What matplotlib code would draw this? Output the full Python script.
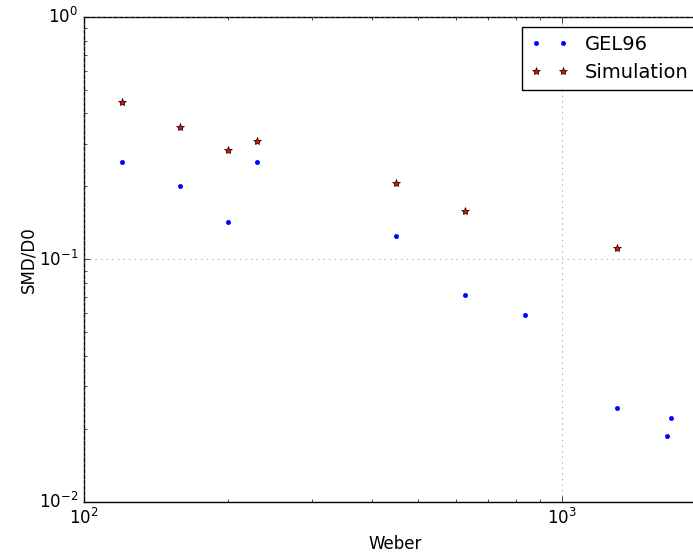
import matplotlib
matplotlib.use("Agg")
import matplotlib.pyplot as plt

# GEL96 reference data
gel_we = [120, 159, 200, 230, 450, 627, 837, 1300, 1658, 1690]
gel_smd = [0.252, 0.201, 0.143, 0.252, 0.125, 0.0714, 0.059, 0.0244, 0.0187, 0.0222]

# simulation results
sim_we = [120, 159, 200, 230, 450, 627, 1300]
sim_smd = [0.446, 0.352, 0.283, 0.308, 0.207, 0.158, 0.1115]


def plot():
    plt.style.use("classic")
    fig = plt.figure(figsize=(6.93, 5.52), dpi=100)
    ax = fig.add_axes([0.1212, 0.0906, 0.8975, 0.8786])
    ax.loglog(gel_we, gel_smd, "b.", mec="b", label="GEL96")
    ax.loglog(sim_we, sim_smd, "r*", mec="k", mew=0.5, ms=6, label="Simulation")
    ax.set_xlim(100, 2000)
    ax.set_ylim(0.01, 1)
    ax.grid(True, which="major", color="0.5", linestyle=":")
    ax.set_xlabel("Weber")
    ax.set_ylabel("SMD/D0", labelpad=1)
    ax.legend(loc="upper right", prop={"size": 14}, numpoints=2)
    fig.savefig("out.png", dpi=100)


if __name__ == "__main__":
    plot()
